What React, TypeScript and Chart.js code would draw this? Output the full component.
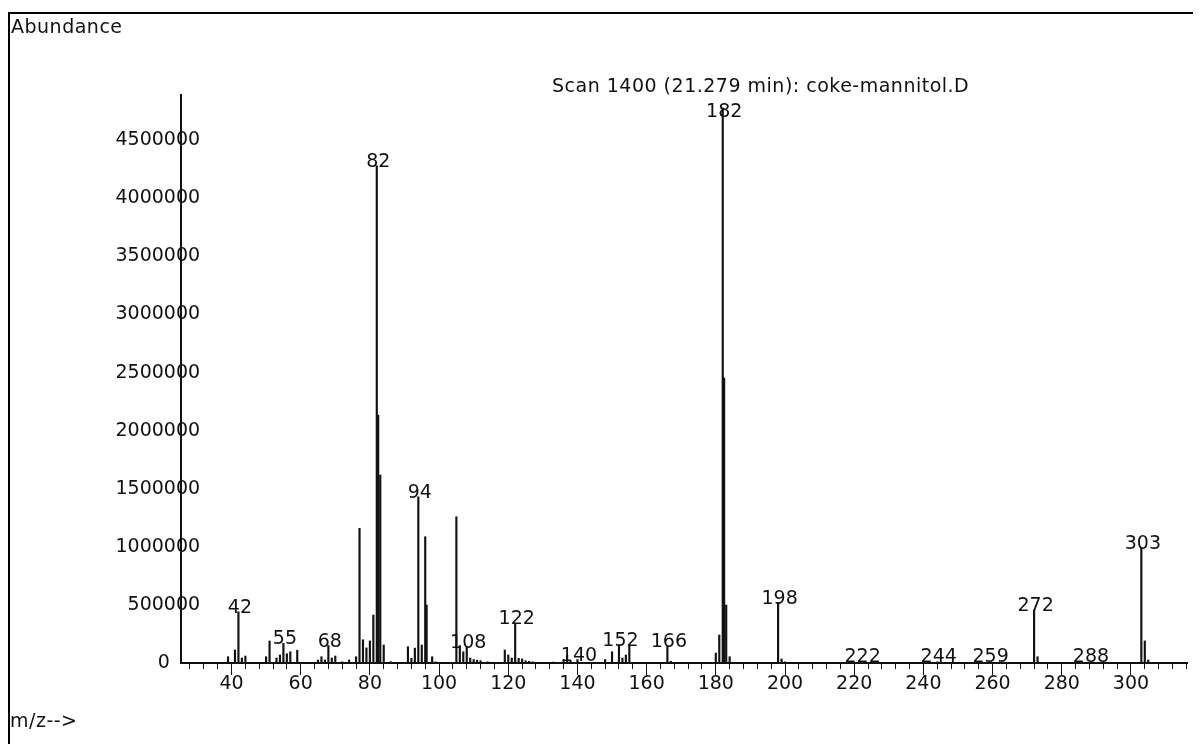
import React, { useEffect, useRef } from "react";
import { Chart, registerables } from "chart.js";

Chart.register(...registerables);

// m/z values of the spectrum lines
const mzValues = [
  39, 41, 42, 43, 44, 50, 51, 53, 54, 55, 56, 57, 59, 65, 66, 67, 68, 69, 70, 72,
  74, 76, 77, 78, 79, 80, 81, 82, 82.4, 83, 84, 86, 91, 92, 93, 94, 95, 96, 96.4, 98,
  99, 105, 106, 107, 108, 109, 110, 111, 112, 114, 119, 120, 121, 122, 123, 124, 125, 126, 127, 133,
  136, 137, 138, 140, 148, 150, 152, 153, 154, 155, 166, 167, 180, 181, 182, 182.4, 183, 184, 198, 199,
  200, 222, 240, 244, 259, 272, 273, 288, 303, 304, 305,
];

// abundance of each line
const abundances = [
  54000, 112000, 441000, 43000, 60000, 54000, 190000, 43000, 69000, 170000, 80000, 97000, 110000, 26000, 54000, 26000, 150000, 43000, 60000, 10000,
  26000, 54000, 1159000, 200000, 130000, 190000, 413000, 4280000, 2134000, 1618000, 155000, 11000, 140000, 40000, 128000, 1431000, 155000, 1087000, 499000, 54000,
  10000, 1259000, 150000, 97000, 140000, 43000, 30000, 25000, 20000, 10000, 112000, 69000, 43000, 341000, 40000, 35000, 20000, 15000, 10000, 8000,
  30000, 69000, 20000, 30000, 30000, 97000, 155000, 43000, 69000, 150000, 150000, 15000, 86000, 241000, 4780000, 2453000, 499000, 54000, 520000, 35000,
  10000, 8000, 15000, 10000, 5000, 456000, 54000, 5000, 990000, 190000, 26000,
];

// peaks that carry an m/z label
const labeledMz = [42, 55, 68, 82, 94, 108, 122, 140, 152, 166, 182, 198, 222, 244, 259, 272, 288, 303];

// abundance tick values
const yTickValues = [0, 500000, 1000000, 1500000, 2000000, 2500000, 3000000, 3500000, 4000000, 4500000];

const xMin = 25.4;
const xMax = 316.2;
const xMajorStep = 20;
const xMinorStep = 4;
const yMax = 4890000;

const titleText = "Scan 1400 (21.279 min): coke-mannitol.D";
const yAxisTitle = "Abundance";
const xAxisTitle = "m/z-->";

const FONT_FAMILY = "'DejaVu Sans', sans-serif";
const FONT_SIZE = 19;
const INK = "#111";

const textPlugin = {
  id: "spectrumText",
  afterDatasetsDraw(chart: any) {
    const { ctx } = chart;
    const xs = chart.scales.x;
    const ys = chart.scales.y;
    ctx.save();
    ctx.font = `${FONT_SIZE}px ${FONT_FAMILY}`;
    ctx.fillStyle = INK;
    ctx.textBaseline = "alphabetic";
    const titleBaseline = 78;
    ctx.textAlign = "center";
    labeledMz.forEach((m) => {
      const i = mzValues.indexOf(m);
      if (i < 0) return;
      const px = xs.getPixelForValue(m) + 1.5;
      let py = ys.getPixelForValue(abundances[i]) + 1;
      if (py - 15 < titleBaseline + 6) py = titleBaseline + 25;
      py = Math.min(py, ys.bottom - 1);
      ctx.fillText(String(m), px, py);
    });
    ctx.textAlign = "left";
    try {
      (ctx as any).letterSpacing = "0.5px";
    } catch (e) {
      /* ignore */
    }
    ctx.fillText(yAxisTitle, 1, 19);
    ctx.fillText(titleText, 542, titleBaseline);
    ctx.fillText(xAxisTitle, 0, 713);
    ctx.restore();
  },
};

export default function App() {
  const canvasRef = useRef<HTMLCanvasElement | null>(null);

  useEffect(() => {
    const canvas = canvasRef.current;
    if (!canvas) return;
    const points = mzValues.map((m, i) => ({ x: m, y: abundances[i] }));
    const font = { family: FONT_FAMILY, size: FONT_SIZE, lineHeight: 1.2 };
    const chart = new Chart(canvas, {
      type: "bar",
      data: {
        datasets: [
          {
            data: points as any,
            xAxisID: "x",
            yAxisID: "y",
            backgroundColor: INK,
            borderWidth: 0,
            barThickness: 1.5,
          },
        ],
      },
      options: {
        animation: false,
        responsive: false,
        layout: { padding: { top: 81, right: 12, left: 0, bottom: 0 } },
        plugins: {
          legend: { display: false },
          tooltip: { enabled: false },
          title: { display: false },
        },
        scales: {
          xMinor: {
            type: "linear",
            position: "bottom",
            min: xMin,
            max: xMax,
            offset: false,
            weight: 0,
            grid: { drawOnChartArea: false, drawTicks: true, tickLength: 6, color: INK, lineWidth: 1, offset: false },
            border: { display: false },
            ticks: { stepSize: xMinorStep, includeBounds: false, display: false, autoSkip: false },
            afterFit: (s: any) => {
              s.height = 0;
            },
          },
          x: {
            type: "linear",
            position: "bottom",
            min: xMin,
            max: xMax,
            offset: false,
            weight: 1,
            grid: { drawOnChartArea: false, drawTicks: true, tickLength: 12, color: INK, lineWidth: 1, offset: false },
            border: { display: true, color: INK, width: 2 },
            ticks: {
              stepSize: xMajorStep,
              includeBounds: false,
              autoSkip: false,
              maxRotation: 0,
              padding: -2,
              color: INK,
              font,
              callback: (v: any) => String(v),
            },
            afterFit: (s: any) => {
              s.height = 81;
            },
          },
          y: {
            type: "linear",
            position: "left",
            min: 0,
            max: yMax,
            grid: { drawOnChartArea: false, drawTicks: false },
            border: { display: true, color: INK, width: 2, z: 1 },
            afterBuildTicks: (s: any) => {
              s.ticks = yTickValues.map((v) => ({ value: v }));
            },
            ticks: {
              mirror: true,
              crossAlign: "far",
              padding: -65.5,
              color: INK,
              font,
              callback: (v: any) => (Number(v) === 0 ? "0     " : String(v)),
            },
            afterFit: (s: any) => {
              s.width = 171;
            },
          },
        } as any,
      },
      plugins: [textPlugin],
    });
    return () => chart.destroy();
  }, []);

  return (
    <div style={{ paddingTop: 4 }}>
      <div
        style={{
          width: 1191,
          height: 732,
          boxSizing: "border-box",
          borderLeft: "2px solid #000",
          borderTop: "2px solid #000",
          background: "#fff",
        }}
      >
        <canvas ref={canvasRef} width={1189} height={730} style={{ display: "block" }} />
      </div>
    </div>
  );
}
